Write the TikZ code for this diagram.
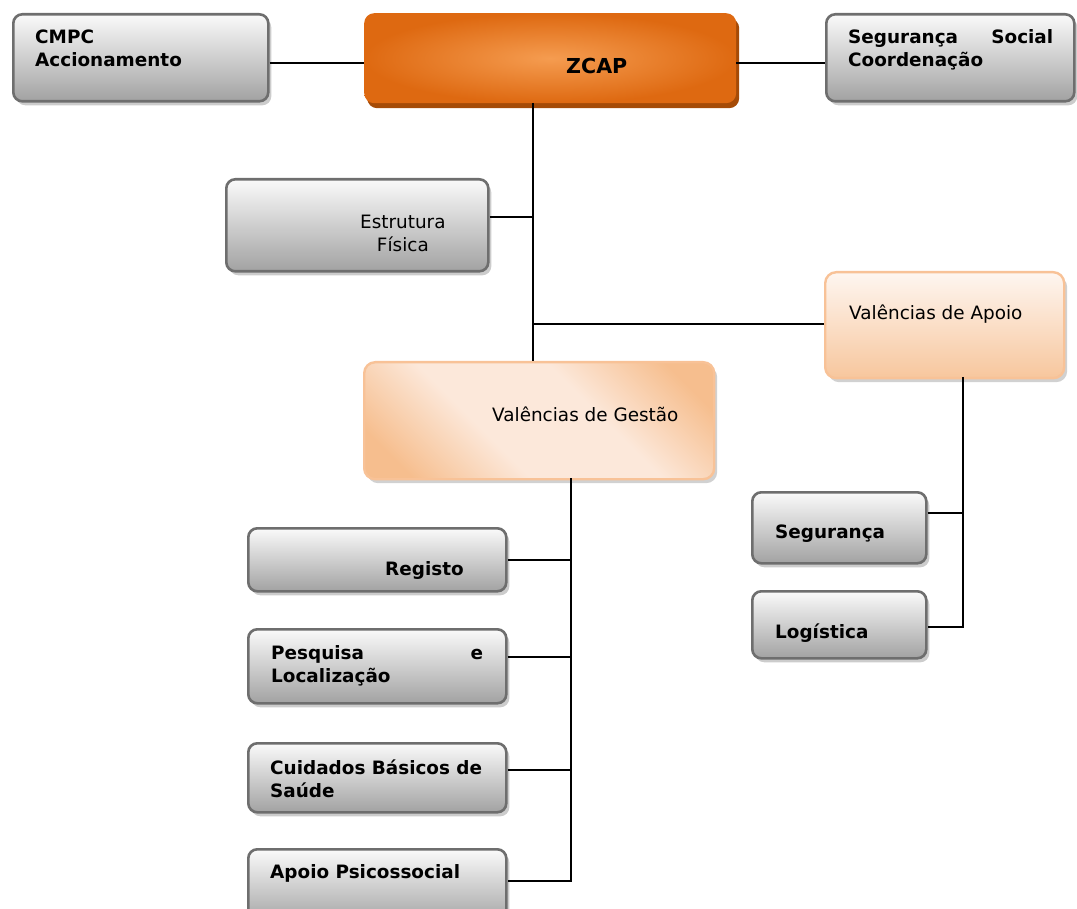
\documentclass[tikz,border=0pt]{standalone}
\usepackage{fontspec}
\setmainfont{DejaVu Sans}
\usetikzlibrary{shadows}

\definecolor{greyedge}{HTML}{6E6E6E}
\definecolor{greytop}{HTML}{FAFAFA}
\definecolor{greybot}{HTML}{A2A2A2}
\definecolor{zcapin}{HTML}{F59C50}
\definecolor{zcapout}{HTML}{DE6911}
\definecolor{zcapshade}{HTML}{A54B07}
\definecolor{peachedge}{HTML}{F8C297}
\definecolor{peachlight}{HTML}{FCE8DA}
\definecolor{peachdark}{HTML}{F6BE8E}

\pgfdeclareverticalshading{gestshade}{100bp}{color(0bp)=(peachdark); color(22bp)=(peachdark); color(40bp)=(peachlight); color(60bp)=(peachlight); color(78bp)=(peachdark); color(100bp)=(peachdark)}

\tikzset{
  greybox/.style={draw=greyedge, line width=2.6pt, rounded corners=9pt, top color=greytop, bottom color=greybot, anchor=north west, drop shadow={shadow xshift=3pt, shadow yshift=-4pt, fill=black!20, opacity=1}},
  peachbox/.style={draw=peachedge, line width=2.4pt, rounded corners=11pt, anchor=north west, drop shadow={shadow xshift=3pt, shadow yshift=-4pt, fill=black!18, opacity=1}},
  lbl/.style={font=\fontsize{18.4}{23}\selectfont, inner sep=0pt, anchor=base west, align=left},
  blbl/.style={lbl, font=\fontsize{18.4}{23}\selectfont\bfseries},
  link/.style={line width=1.7pt, black}
}

\begin{document}
\begin{tikzpicture}[x=1pt,y=-1pt]
	\useasboundingbox (0,0) rectangle (1077,909);

	% top row
	\node[greybox, minimum width=255, minimum height=87] (cmpc) at (12,13) {};
	\node[blbl] (cmpctxt) at (35,67) {CMPC\\Accionamento};
	\node[anchor=north west, minimum width=372, minimum height=90, rounded corners=10pt, shading=radial, inner color=zcapin, outer color=zcapout, drop shadow={shadow xshift=3pt, shadow yshift=-5pt, fill=zcapshade, opacity=1}] (zcap) at (364,13) {};
	\node[blbl, font=\fontsize{20.6}{24}\selectfont\bfseries] (zcaptxt) at (566,73.5) {ZCAP};
	\node[greybox, minimum width=248, minimum height=87] (segsoc) at (825,13) {};
	\node[blbl] (segsoctxt) at (848,67) {\makebox[205pt][s]{Segurança\hfill Social}\\Coordenação};

	% trunk
	\coordinate (t0) at (533,103);
	\coordinate (t1) at (533,217);
	\coordinate (t2) at (533,324);
	\node[greybox, minimum width=262, minimum height=92] (estr) at (225,178) {};
	\node[lbl, align=center] (estrtxt) at (360,252) {Estrutura\\Física};
	\node[peachbox, minimum width=239, minimum height=106, top color=white!60!peachlight, bottom color=peachdark!80!peachlight] (apoio) at (824,271) {};
	\node[lbl] (apoiotxt) at (849,320) {Valências de Apoio};
	\node[peachbox, minimum width=350, minimum height=117, shading=gestshade, shading angle=-45] (gest) at (363,361) {};
	\node[lbl] (gesttxt) at (492,421) {Valências de Gestão};

	% gestao branch
	\coordinate (g0) at (571,478);
	\node[greybox, minimum width=258, minimum height=63] (reg) at (247,527) {};
	\node[blbl] (regtxt) at (385,575) {Registo};
	\node[greybox, minimum width=258, minimum height=74] (pesq) at (247,628) {};
	\node[blbl] (pesqtxt) at (271,682) {\makebox[212pt][s]{Pesquisa\hfill e}\\Localização};
	\node[greybox, minimum width=258, minimum height=69] (cuid) at (247,742) {};
	\node[blbl] (cuidtxt) at (270,797) {Cuidados Básicos de\\Saúde};
	\node[greybox, minimum width=258, minimum height=75] (psico) at (247,848) {};
	\node[blbl] (psicotxt) at (270,878) {Apoio Psicossocial};

	% apoio branch
	\coordinate (a0) at (963,377);
	\node[greybox, minimum width=174, minimum height=71] (seg) at (751,491) {};
	\node[blbl] (segtxt) at (775,538) {Segurança};
	\node[greybox, minimum width=174, minimum height=67] (logi) at (751,590) {};
	\node[blbl] (logitxt) at (775,638) {Logística};

	% connectors
	\draw[link] (cmpc.east |- 0,63) -- (zcap.west |- 0,63);
	\draw[link] (zcap.east |- 0,63) -- (segsoc.west |- 0,63);
	\draw[link] (t0) -- (t0 |- gest.north);
	\draw[link] (estr.east |- t1) -- (t1);
	\draw[link] (t2) -- (t2 -| apoio.west);
	\draw[link] (g0) -- (571,881) -- (psico.east |- 0,881);
	\draw[link] (reg.east |- 0,560) -- (571,560);
	\draw[link] (pesq.east |- 0,657) -- (571,657);
	\draw[link] (cuid.east |- 0,770) -- (571,770);
	\draw[link] (a0) -- (963,627) -- (logi.east |- 0,627);
	\draw[link] (seg.east |- 0,513) -- (963,513);
\end{tikzpicture}
\end{document}
